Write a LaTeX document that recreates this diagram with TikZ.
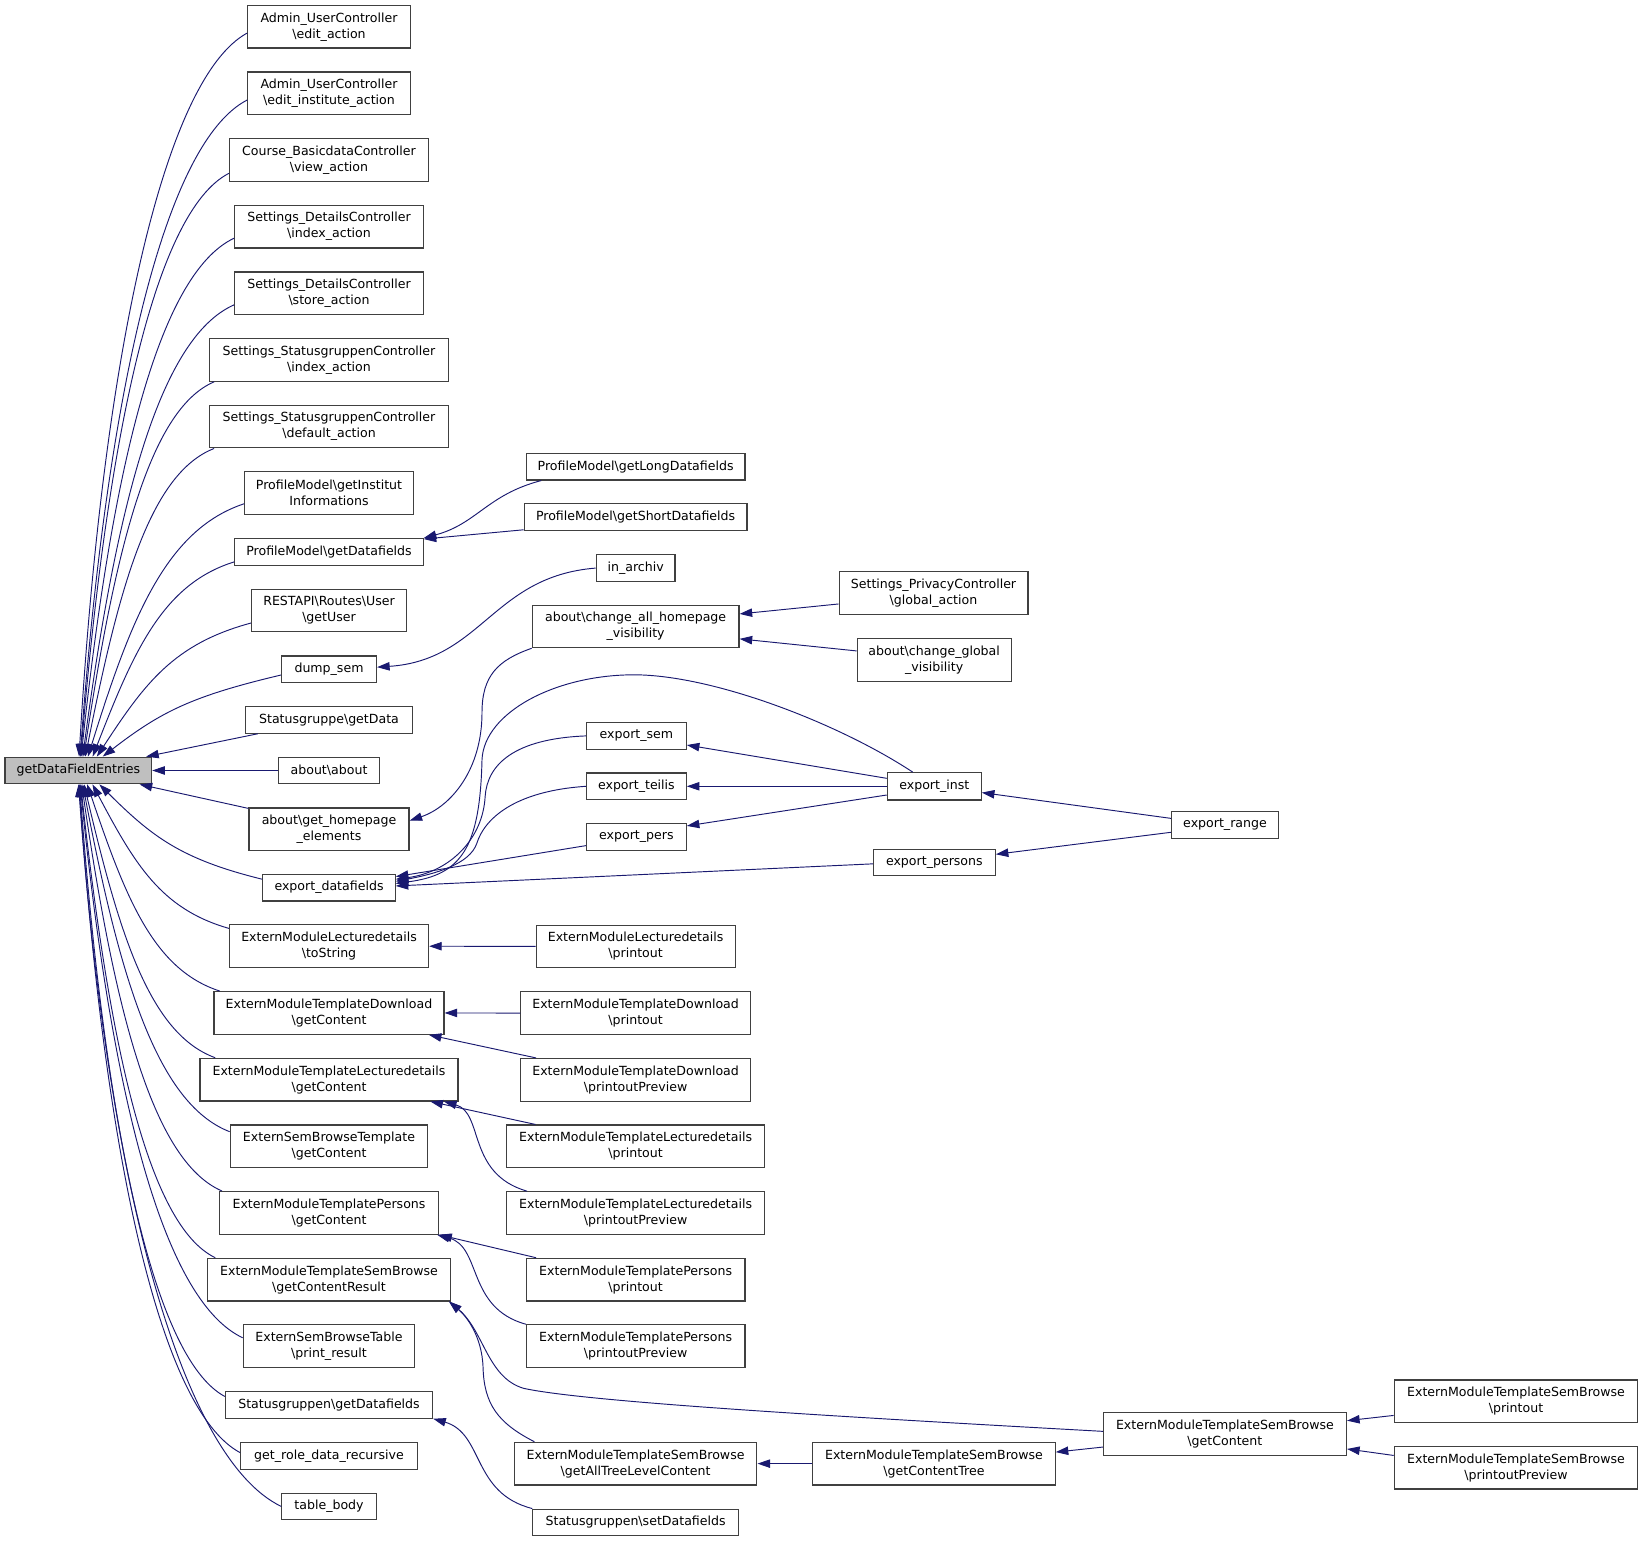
\documentclass[tikz,border=0pt]{standalone}
\usepackage{fontspec}
\setmainfont{DejaVu Sans}
\usetikzlibrary{arrows.meta,calc}
\definecolor{edgeblue}{HTML}{191970}
\definecolor{boxline}{HTML}{404040}
\definecolor{rootfill}{HTML}{BFBFBF}
\newcommand\bksl{\textbackslash}
% #1 caller point, #2 x offset on root edge, #3 north/south, #4 sign
\newcommand\fanedge[4]{%
 \draw[conn] let \p1=#1, \p2=($(gdfe.#3 west)+(#2,0)$),
  \n1={\x1-\x2}, \n2={\y1-\y2}, \n3={0.35-0.0003*abs(\n2)} in
  (\p1) .. controls ($(\p1)+({-0.5*\n1*1pt},{(-0.04*\n2-#4*0.1*\n1)*1pt})$)
  and ($(\p2)+({\n3*\n1*1pt},{0.55*\n2*1pt})$) .. (\p2);}
\begin{document}
\begin{tikzpicture}[x=1pt,y=-1pt,
  fn/.style={draw=boxline, line width=1.1pt, fill=white, inner sep=0pt, align=center,
    font=\fontsize{12pt}{15.3pt}\selectfont},
  one/.style={fn, minimum height=25.4pt},
  two/.style={fn, minimum height=40.7pt},
  conn/.style={draw=edgeblue, line width=0.9pt, -{Triangle[length=12pt,width=8pt]}}]
\fill[white] (0,0) rectangle (1568,1470.66);
\useasboundingbox (0,0) rectangle (1568,1470.66);

\node[one, fill=rootfill, minimum width=139.9pt] (gdfe) at (74.75,735.3) {getDataFieldEntries};

% column 2
\node[two, minimum width=155pt]   (n1)  at (314,25.5)   {Admin\_UserController\\\bksl edit\_action};
\node[two, minimum width=155pt]   (n2)  at (314,89.1)   {Admin\_UserController\\\bksl edit\_institute\_action};
\node[two, minimum width=190pt]   (n3)  at (314,152.7)  {Course\_BasicdataController\\\bksl view\_action};
\node[two, minimum width=180pt]   (n4)  at (314,216.3)  {Settings\_DetailsController\\\bksl index\_action};
\node[two, minimum width=180pt]   (n5)  at (314,279.9)  {Settings\_DetailsController\\\bksl store\_action};
\node[two, minimum width=228.3pt] (n6)  at (314,343.5)  {Settings\_StatusgruppenController\\\bksl index\_action};
\node[two, minimum width=228.3pt] (n7)  at (314,407.1)  {Settings\_StatusgruppenController\\\bksl default\_action};
\node[two, minimum width=160.6pt] (n8)  at (314,470.7)  {ProfileModel\bksl getInstitut\\Informations};
\node[one, minimum width=179.7pt] (n9)  at (314,526.7)  {ProfileModel\bksl getDatafields};
\node[two, minimum width=148pt]   (n10) at (314,582.6)  {RESTAPI\bksl Routes\bksl User\\\bksl getUser};
\node[one, minimum width=90.6pt]  (n11) at (314,638.7)  {dump\_sem};
\node[one, minimum width=158.7pt] (n12) at (314,687)    {Statusgruppe\bksl getData};
\node[one, minimum width=95.7pt]  (n13) at (314,735.3)  {about\bksl about};
\node[two, minimum width=152.7pt] (n14) at (314,791.4)  {about\bksl get\_homepage\\\_elements};
\node[one, minimum width=126.3pt] (n15) at (314,847.1)  {export\_datafields};
\node[two, minimum width=190pt]   (n16) at (314,903)    {ExternModuleLecturedetails\\\bksl toString};
\node[two, minimum width=219.5pt] (n17) at (314,966.7)  {ExternModuleTemplateDownload\\\bksl getContent};
\node[two, minimum width=246.3pt] (n18) at (314,1030.3) {ExternModuleTemplateLecturedetails\\\bksl getContent};
\node[two, minimum width=188.7pt] (n19) at (314,1094)   {ExternSemBrowseTemplate\\\bksl getContent};
\node[two, minimum width=209.3pt] (n20) at (314,1157.5) {ExternModuleTemplatePersons\\\bksl getContent};
\node[two, minimum width=232pt]   (n21) at (314,1221.2) {ExternModuleTemplateSemBrowse\\\bksl getContentResult};
\node[two, minimum width=163.7pt] (n22) at (314,1284.7) {ExternSemBrowseTable\\\bksl print\_result};
\node[one, minimum width=197.8pt] (n23) at (314,1340.7) {Statusgruppen\bksl getDatafields};
\node[one, minimum width=168.6pt] (n24) at (314,1389.3) {get\_role\_data\_recursive};
\node[one, minimum width=90pt]    (n25) at (314,1437.7) {table\_body};

% column 3
\node[one, minimum width=208.9pt] (getlong)  at (606.6,445.35) {ProfileModel\bksl getLongDatafields};
\node[one, minimum width=212.7pt] (getshort) at (606.6,493.35) {ProfileModel\bksl getShortDatafields};
\node[one, minimum width=75.3pt]  (inarchiv) at (606.6,542.15) {in\_archiv};
\node[two, minimum width=197.4pt] (changeall) at (606.6,597.8) {about\bksl change\_all\_homepage\\\_visibility};
\node[one, minimum width=95.1pt]  (exsem)    at (607.35,702.3) {export\_sem};
\node[one, minimum width=95.1pt]  (exteilis) at (607.35,750.4) {export\_teilis};
\node[one, minimum width=95.1pt]  (expers)   at (607.35,798.6) {export\_pers};
\node[two, minimum width=189.9pt] (eldprint) at (606.6,903.2)  {ExternModuleLecturedetails\\\bksl printout};
\node[two, minimum width=219.1pt] (etdprint) at (606.6,966.8)  {ExternModuleTemplateDownload\\\bksl printout};
\node[two, minimum width=219.1pt] (etdprev)  at (606.6,1030.5) {ExternModuleTemplateDownload\\\bksl printoutPreview};
\node[two, minimum width=246.1pt] (etlprint) at (606.6,1094)   {ExternModuleTemplateLecturedetails\\\bksl printout};
\node[two, minimum width=246.1pt] (etlprev)  at (606.6,1157.7) {ExternModuleTemplateLecturedetails\\\bksl printoutPreview};
\node[two, minimum width=208.9pt] (etpprint) at (606.6,1221.2) {ExternModuleTemplatePersons\\\bksl printout};
\node[two, minimum width=208.9pt] (etpprev)  at (606.6,1284.7) {ExternModuleTemplatePersons\\\bksl printoutPreview};
\node[two, minimum width=231.5pt] (gatlc)    at (606.6,1396.8) {ExternModuleTemplateSemBrowse\\\bksl getAllTreeLevelContent};
\node[one, minimum width=196.2pt] (setdf)    at (606.6,1452.9) {Statusgruppen\bksl setDatafields};

% column 4
\node[two, minimum width=180.2pt] (privacy)      at (890.9,565.9)  {Settings\_PrivacyController\\\bksl global\_action};
\node[two, minimum width=147pt]   (changeglobal) at (891.5,629.7)  {about\bksl change\_global\\\_visibility};
\node[one, minimum width=89.7pt, minimum height=26pt] (exinst) at (891.65,750.4) {export\_inst};
\node[one, minimum width=116.2pt] (expersons)    at (891.7,823.1)  {export\_persons};
\node[two, minimum width=231.3pt] (gctree)       at (891.35,1396.8) {ExternModuleTemplateSemBrowse\\\bksl getContentTree};

% column 5
\node[one, minimum width=102.2pt] (exrange) at (1169.1,787.3)  {export\_range};
\node[two, minimum width=232pt]   (etsbget) at (1169,1368.5)   {ExternModuleTemplateSemBrowse\\\bksl getContent};

% column 6
\node[two, minimum width=232.4pt] (etsbprint) at (1446.8,1337.3) {ExternModuleTemplateSemBrowse\\\bksl printout};
\node[two, minimum width=232.4pt] (etsbprev)  at (1446.8,1400.7) {ExternModuleTemplateSemBrowse\\\bksl printoutPreview};

% fan into root (upper)
\fanedge{($(n1.west)+(0,6)$)}{71.2}{north}{1}
\fanedge{($(n2.west)+(0,6.3)$)}{72.2}{north}{1}
\fanedge{($(n3.west)+(0,12.7)$)}{72.7}{north}{1}
\fanedge{($(n4.west)+(0,11)$)}{73.2}{north}{1}
\fanedge{($(n5.west)+(0,11)$)}{74.7}{north}{1}
\fanedge{($(n6.south west)+(5,0)$)}{75.7}{north}{1}
\fanedge{($(n7.south west)+(5,0)$)}{77.2}{north}{1}
\fanedge{($(n8.west)+(0,10)$)}{79.7}{north}{1}
\fanedge{($(n9.west)+(0,9.5)$)}{84.2}{north}{1}
\fanedge{($(n10.west)+(0,12)$)}{88.2}{north}{1}
\fanedge{($(n11.west)+(0,5.5)$)}{93.8}{north}{1}
\draw[conn] ($(n12.south west)+(12,0)$) -- ($(gdfe.north west)+(135.2,0)$);
\draw[conn] (n13.west) -- (gdfe.east);
\draw[conn] ($(n14.north west)+(0,1)$) -- ($(gdfe.south west)+(129,0)$);
% fan into root (lower)
\fanedge{($(n15.west)+(0,-8)$)}{90.6}{south}{(-1)}
\fanedge{($(n16.west)+(0,-17)$)}{84}{south}{(-1)}
\fanedge{($(n17.north west)+(6,0)$)}{79}{south}{(-1)}
\fanedge{($(n18.north west)+(15,0)$)}{76}{south}{(-1)}
\fanedge{($(n19.west)+(0,-14)$)}{74.7}{south}{(-1)}
\fanedge{($(n20.north west)+(3,0)$)}{73.7}{south}{(-1)}
\fanedge{($(n21.north west)+(8,0)$)}{72.7}{south}{(-1)}
\fanedge{($(n22.west)+(0,-8)$)}{72.2}{south}{(-1)}
\fanedge{($(n23.west)+(0,-8)$)}{71.7}{south}{(-1)}
\fanedge{($(n24.west)+(0,-3)$)}{71.2}{south}{(-1)}
\fanedge{(n25.west)}{70.7}{south}{(-1)}

% other edges
\draw[conn] ($(getlong.south west)+(15,0)$) .. controls (465,472) and (455,500) .. (n9.north east);
\draw[conn] ($(getshort.south west)+(0,-1)$) -- ($(n9.north east)+(0,1)$);
\draw[conn] (inarchiv.west) .. controls (470,550) and (460,630) .. ($(n11.east)+(0,-2)$);
\draw[conn] ($(privacy.west)+(0,10.5)$) -- ($(changeall.east)+(0,-11.9)$);
\draw[conn] ($(changeglobal.west)+(0,-8.5)$) -- ($(changeall.east)+(0,11.9)$);
\draw[conn] (changeall.south west) .. controls (475,630) and (460,645) .. (460,680)
  .. controls (460,735) and (430,770) .. ($(n14.east)+(0,-8.2)$);
\draw[conn] ($(exinst.north west)+(24.8,0)$) .. controls (800,690) and (680,644) .. (605,644)
  .. controls (530,644) and (462,680) .. (460,725)
  .. controls (458,810) and (440,835) .. ($(n15.east)+(0,-4)$);
\draw[conn] (exsem.west) .. controls (490,705) and (465,730) .. (463,760)
  .. controls (461,800) and (430,832) .. ($(n15.east)+(0,-8)$);
\draw[conn] (exteilis.west) .. controls (490,755) and (462,782) .. (455,805)
  .. controls (448,825) and (415,834) .. ($(n15.east)+(0,-6)$);
\draw[conn] ($(expers.west)+(0,8.4)$) -- ($(n15.east)+(0,-10.5)$);
\draw[conn] ($(expersons.west)+(0,1.3)$) -- ($(n15.east)+(0,-1.6)$);
\draw[conn] ($(exinst.west)+(0,-7.6)$) -- ($(exsem.east)+(0,8.7)$);
\draw[conn] (exinst.west) -- (exteilis.east);
\draw[conn] ($(exinst.west)+(0,8.3)$) -- ($(expers.east)+(0,-10.4)$);
\draw[conn] ($(exrange.west)+(0,-6.3)$) -- ($(exinst.east)+(0,6)$);
\draw[conn] ($(exrange.west)+(0,7)$) -- ($(expersons.east)+(0,-7.8)$);
\draw[conn] (eldprint.west) -- (n16.east);
\draw[conn] (etdprint.west) -- (n17.east);
\draw[conn] ($(etdprev.north west)+(15,0)$) -- ($(n17.south east)+(-15,0)$);
\draw[conn] ($(etlprint.north west)+(28,0)$) -- ($(n18.south east)+(-27,0)$);
\draw[conn] ($(etlprev.north west)+(20,0)$) .. controls (445,1120) and (462,1062) .. ($(n18.south east)+(-14,0)$);
\draw[conn] ($(etpprint.north west)+(10,0)$) -- (n20.south east);
\draw[conn] ($(etpprev.north west)+(0.3,0)$) .. controls (445,1248) and (460,1190) .. ($(n20.south east)+(-2,0)$);
\draw[conn] ($(gatlc.north west)+(19.7,0)$) .. controls (475,1358) and (462,1340) .. (461,1305)
  .. controls (460,1275) and (445,1256) .. ($(n21.south east)+(-2,0)$);
\draw[conn] ($(etsbget.west)+(0,-2.5)$) .. controls (800,1352) and (560,1338) .. (500,1325)
  .. controls (465,1315) and (462,1270) .. ($(n21.south east)+(-2,0)$);
\draw[conn] (setdf.north west) .. controls (450,1425) and (462,1368) .. (n23.south east);
\draw[conn] (gctree.west) -- (gatlc.east);
\draw[conn] ($(etsbget.west)+(0,12.5)$) -- ($(gctree.east)+(0,-11)$);
\draw[conn] ($(etsbprint.west)+(0,13.5)$) -- ($(etsbget.east)+(0,-12.7)$);
\draw[conn] ($(etsbprev.west)+(0,-11.7)$) -- ($(etsbget.east)+(0,14.3)$);
\end{tikzpicture}
\end{document}
